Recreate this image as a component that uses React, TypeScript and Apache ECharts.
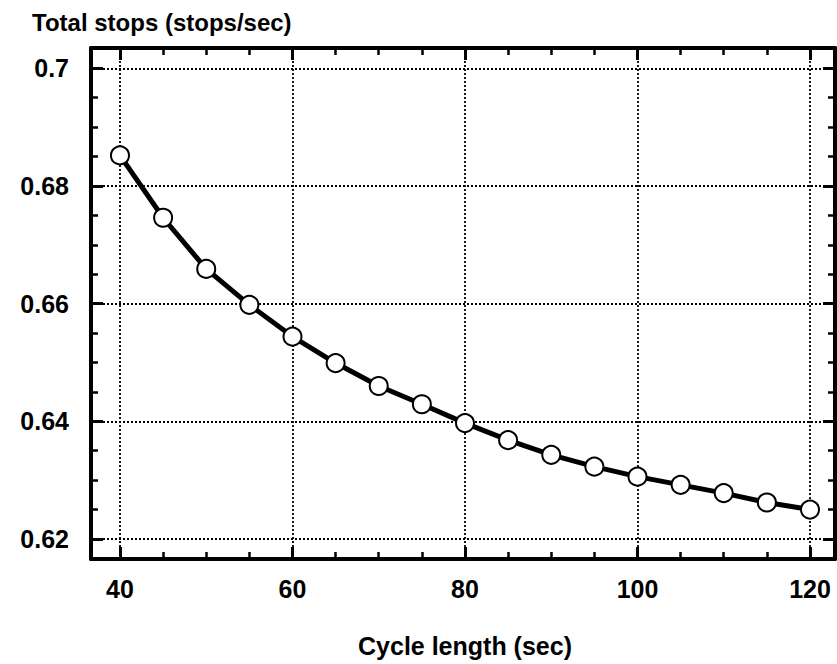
import React, { useEffect, useRef } from "react";
import * as echarts from "echarts";

const cycleLength = [40, 45, 50, 55, 60, 65, 70, 75, 80, 85, 90, 95, 100, 105, 110, 115, 120];
const totalStops = [
  0.6852, 0.6746, 0.6659, 0.6598, 0.6544, 0.6499, 0.646, 0.6429, 0.6397, 0.6368, 0.6343,
  0.6323, 0.6306, 0.6292, 0.6278, 0.6262, 0.625,
];
const xTicks = [40, 60, 80, 100, 120];
const yTicks = [0.62, 0.64, 0.66, 0.68, 0.7];
const xFrame = [36.64, 122.9];
const yFrame = [0.6166, 0.70345];

const W = 837;
const H = 664;
const FONT = "'Liberation Sans', Arial, Helvetica, sans-serif";

export default function App() {
  const ref = useRef<HTMLDivElement>(null);
  useEffect(() => {
    if (!ref.current) return;
    const chart = echarts.init(ref.current, undefined, { renderer: "svg" });

    const oL = 91, oT = 48, oR = 2, oB = 105;
    const gw = W - oL - oR;
    const gh = H - oT - oB;
    const px = (x: number) => oL + ((x - xFrame[0]) / (xFrame[1] - xFrame[0])) * gw;
    const py = (y: number) => oT + ((yFrame[1] - y) / (yFrame[1] - yFrame[0])) * gh;
    const iL = px(xTicks[0]);
    const iR = W - px(xTicks[xTicks.length - 1]);
    const iT = py(yTicks[yTicks.length - 1]);
    const iB = H - py(yTicks[0]);

    const frameLine = { show: true, lineStyle: { color: "#000", width: 4 } };
    const hidden = { show: false };
    const tick = { show: true, inside: true, length: 12, lineStyle: { color: "#000", width: 3 } };
    const minor = { show: true, splitNumber: 4, length: 7, lineStyle: { color: "#000", width: 2.5 } };
    const label = { color: "#000", fontFamily: FONT, fontWeight: "bold", fontSize: 25 };
    const xStep = xTicks[1] - xTicks[0];
    const yStep = +(yTicks[1] - yTicks[0]).toFixed(4);

    chart.setOption({
      animation: false,
      backgroundColor: "#fff",
      title: {
        text: "Total stops (stops/sec)",
        left: 27,
        top: 5,
        textStyle: { color: "#000", fontFamily: FONT, fontWeight: "bold", fontSize: 24 },
      },
      grid: [
        { left: oL, top: oT, right: oR, bottom: oB },
        { left: iL, top: iT, right: iR, bottom: iB },
      ],
      xAxis: [
        { type: "value", gridIndex: 0, position: "bottom", min: xFrame[0], max: xFrame[1], axisLine: frameLine, axisTick: hidden, axisLabel: hidden, splitLine: hidden },
        { type: "value", gridIndex: 0, position: "top", min: xFrame[0], max: xFrame[1], axisLine: frameLine, axisTick: hidden, axisLabel: hidden, splitLine: hidden },
        {
          type: "value", gridIndex: 1, position: "bottom", offset: iB - oB,
          min: xTicks[0], max: xTicks[xTicks.length - 1], interval: xStep,
          axisLine: hidden, axisTick: tick, minorTick: minor, splitLine: hidden,
          axisLabel: { ...label, margin: 17 },
          name: "Cycle length (sec)", nameLocation: "middle", nameGap: 74,
          nameTextStyle: { color: "#000", fontFamily: FONT, fontWeight: "bold", fontSize: 25 },
        },
        {
          type: "value", gridIndex: 1, position: "top", offset: iT - oT,
          min: xTicks[0], max: xTicks[xTicks.length - 1], interval: xStep,
          axisLine: hidden, axisTick: tick, minorTick: minor, splitLine: hidden, axisLabel: hidden,
        },
      ],
      yAxis: [
        { type: "value", gridIndex: 0, position: "left", min: yFrame[0], max: yFrame[1], axisLine: frameLine, axisTick: hidden, axisLabel: hidden, splitLine: hidden },
        { type: "value", gridIndex: 0, position: "right", min: yFrame[0], max: yFrame[1], axisLine: frameLine, axisTick: hidden, axisLabel: hidden, splitLine: hidden },
        {
          type: "value", gridIndex: 1, position: "left", offset: iL - oL,
          min: yTicks[0], max: yTicks[yTicks.length - 1], interval: yStep,
          axisLine: hidden, axisTick: tick, minorTick: minor, splitLine: hidden,
          axisLabel: { ...label, margin: 22 },
        },
        {
          type: "value", gridIndex: 1, position: "right", offset: iR - oR,
          min: yTicks[0], max: yTicks[yTicks.length - 1], interval: yStep,
          axisLine: hidden, axisTick: tick, minorTick: minor, splitLine: hidden, axisLabel: hidden,
        },
      ],
      series: [
        {
          type: "line",
          xAxisIndex: 0,
          yAxisIndex: 0,
          data: [],
          z: 1,
          silent: true,
          markLine: {
            silent: true,
            symbol: "none",
            label: { show: false },
            lineStyle: { color: "#000", width: 1.8, type: [2, 2] },
            data: [
              ...xTicks.map((v) => ({ xAxis: v })),
              ...yTicks.map((v) => ({ yAxis: v })),
            ],
          },
        },
        {
          type: "line",
          xAxisIndex: 0,
          yAxisIndex: 0,
          z: 5,
          data: cycleLength.map((x, i) => [x, totalStops[i]]),
          lineStyle: { color: "#000", width: 5 },
          symbol: "circle",
          symbolSize: 18,
          itemStyle: { color: "#fff", borderColor: "#000", borderWidth: 2 },
        },
      ],
    });
    return () => chart.dispose();
  }, []);
  return <div ref={ref} style={{ position: "fixed", left: 0, top: 0, width: W, height: H }} />;
}
